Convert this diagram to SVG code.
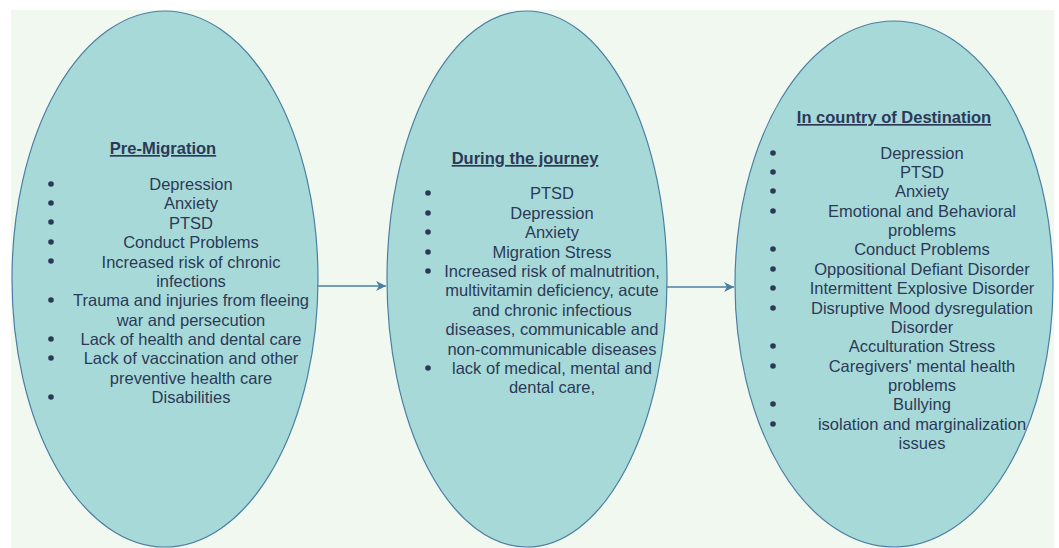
<svg xmlns="http://www.w3.org/2000/svg" width="1059" height="548" viewBox="0 0 1059 548">
<defs>
<style>
.bg{fill:#f1f8ef}
.node{fill:#a8d9d9;stroke:#4a7fa3;stroke-width:1.2}
.t{font-family:"Liberation Sans",Arial,sans-serif;font-size:16.5px;fill:#2b3957;text-anchor:middle}
.h{font-weight:bold;text-decoration:underline}
.b{fill:#2b3957}
.conn{stroke:#4a7fa3;stroke-width:1.3;fill:none}
</style>
<marker id="arr" markerWidth="12" markerHeight="10" refX="10" refY="5" orient="auto" markerUnits="userSpaceOnUse">
<path d="M0,0 L10,5 L0,10 L3,5 Z" fill="#4a7fa3"/>
</marker>
</defs>
<rect x="0" y="0" width="1059" height="548" fill="#ffffff"/>
<rect class="bg" x="11" y="10" width="1043" height="538"/>
<g id="connectors">
<path class="conn" d="M318,286 L386,286" marker-end="url(#arr)"/>
<path class="conn" d="M666,287 L734,287" marker-end="url(#arr)"/>
</g>
<g id="pre-migration">
<ellipse class="node" cx="165" cy="279" rx="153" ry="268"/>
<text class="t h" x="163" y="154">Pre-Migration</text>
<g class="b">
<circle cx="51" cy="184" r="2.8"/><circle cx="51" cy="203" r="2.8"/><circle cx="51" cy="222" r="2.8"/><circle cx="51" cy="242" r="2.8"/><circle cx="51" cy="261" r="2.8"/><circle cx="51" cy="300" r="2.8"/><circle cx="51" cy="339" r="2.8"/><circle cx="51" cy="358" r="2.8"/><circle cx="51" cy="397" r="2.8"/>
</g>
<text class="t" x="191" y="190">Depression</text>
<text class="t" x="191" y="209">Anxiety</text>
<text class="t" x="191" y="229">PTSD</text>
<text class="t" x="191" y="248">Conduct Problems</text>
<text class="t" x="191" y="268">Increased risk of chronic</text>
<text class="t" x="191" y="287">infections</text>
<text class="t" x="191" y="306">Trauma and injuries from fleeing</text>
<text class="t" x="191" y="326">war and persecution</text>
<text class="t" x="191" y="345">Lack of health and dental care</text>
<text class="t" x="191" y="364">Lack of vaccination and other</text>
<text class="t" x="191" y="384">preventive health care</text>
<text class="t" x="191" y="403">Disabilities</text>
</g>
<g id="during-journey">
<ellipse class="node" cx="527" cy="279" rx="140" ry="268"/>
<text class="t h" x="525" y="164">During the journey</text>
<g class="b">
<circle cx="428" cy="193" r="2.8"/><circle cx="428" cy="213" r="2.8"/><circle cx="428" cy="232" r="2.8"/><circle cx="428" cy="252" r="2.8"/><circle cx="428" cy="271" r="2.8"/><circle cx="428" cy="368" r="2.8"/>
</g>
<text class="t" x="552" y="199">PTSD</text>
<text class="t" x="552" y="219">Depression</text>
<text class="t" x="552" y="238">Anxiety</text>
<text class="t" x="552" y="258">Migration Stress</text>
<text class="t" x="552" y="277">Increased risk of malnutrition,</text>
<text class="t" x="552" y="296">multivitamin deficiency, acute</text>
<text class="t" x="552" y="316">and chronic infectious</text>
<text class="t" x="552" y="335">diseases, communicable and</text>
<text class="t" x="552" y="355">non-communicable diseases</text>
<text class="t" x="552" y="374">lack of medical, mental and</text>
<text class="t" x="552" y="393">dental care,</text>
</g>
<g id="destination">
<ellipse class="node" cx="894" cy="284" rx="159" ry="263"/>
<text class="t h" x="894" y="123">In country of Destination</text>
<g class="b">
<circle cx="773" cy="153" r="2.8"/><circle cx="773" cy="172" r="2.8"/><circle cx="773" cy="191" r="2.8"/><circle cx="773" cy="211" r="2.8"/><circle cx="773" cy="249" r="2.8"/><circle cx="773" cy="269" r="2.8"/><circle cx="773" cy="288" r="2.8"/><circle cx="773" cy="308" r="2.8"/><circle cx="773" cy="346" r="2.8"/><circle cx="773" cy="366" r="2.8"/><circle cx="773" cy="404" r="2.8"/><circle cx="773" cy="424" r="2.8"/>
</g>
<text class="t" x="922" y="159">Depression</text>
<text class="t" x="922" y="178">PTSD</text>
<text class="t" x="922" y="197">Anxiety</text>
<text class="t" x="922" y="217">Emotional and Behavioral</text>
<text class="t" x="922" y="236">problems</text>
<text class="t" x="922" y="255">Conduct Problems</text>
<text class="t" x="922" y="275">Oppositional Defiant Disorder</text>
<text class="t" x="922" y="294">Intermittent Explosive Disorder</text>
<text class="t" x="922" y="314">Disruptive Mood dysregulation</text>
<text class="t" x="922" y="333">Disorder</text>
<text class="t" x="922" y="352">Acculturation Stress</text>
<text class="t" x="922" y="372">Caregivers' mental health</text>
<text class="t" x="922" y="391">problems</text>
<text class="t" x="922" y="410">Bullying</text>
<text class="t" x="922" y="430">isolation and marginalization</text>
<text class="t" x="922" y="449">issues</text>
</g>
</svg>
